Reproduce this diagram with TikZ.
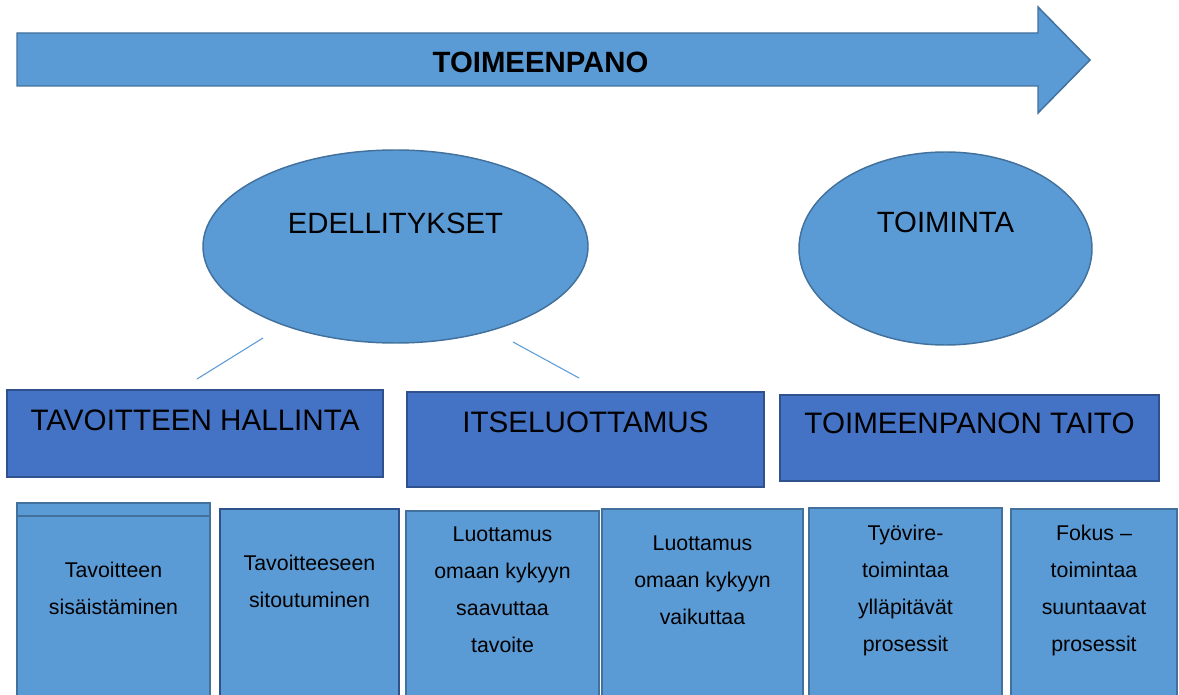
\documentclass[tikz,border=0pt]{standalone}
\usepackage{fontspec}
\setmainfont{Liberation Sans}
\usepackage{xcolor}
\usepackage{tikz}
\usetikzlibrary{shapes.geometric, positioning, fit, calc}
\definecolor{lightblue}{HTML}{5B9BD5}
\definecolor{lightline}{HTML}{41719C}
\definecolor{darkblue}{HTML}{4472C4}
\definecolor{darkline}{HTML}{2F528F}

\begin{document}
\begin{tikzpicture}[
  x=0.75pt, y=-0.75pt,
  arrowbody/.style={draw=lightline, fill=lightblue, line width=1.1pt, line join=miter},
  oval/.style={ellipse, draw=lightline, fill=lightblue, line width=1.1pt, inner sep=0pt, outer sep=0pt, minimum height=144.75pt},
  bigtext/.style={font=\fontsize{22pt}{26pt}\selectfont, inner sep=0pt, anchor=north},
  boxtext/.style={font=\fontsize{22.2pt}{26pt}\selectfont, inner sep=0pt, anchor=north},
  topbox/.style={rectangle, draw=darkline, fill=darkblue, line width=1.1pt, inner sep=0pt, outer sep=0pt},
  lowbox/.style={rectangle, draw=lightline, fill=lightblue, line width=1.5pt, inner sep=0pt, outer sep=0pt},
  lowtext/.style={font=\fontsize{16pt}{27.75pt}\selectfont, align=center, inner sep=0pt, anchor=north},
  link/.style={draw=lightblue, line width=0.8pt}
]
  \useasboundingbox (0,0) rectangle (1179,695);
  \clip (0,0) rectangle (1179,695);

  \draw[arrowbody] (17,33) -- (1038,33) -- (1038,7) -- (1090,60) -- (1038,113) -- (1038,86) -- (17,86) -- cycle;
  \node[font=\bfseries\fontsize{22pt}{26pt}\selectfont, inner sep=0pt] (pano) at (540.5,62.5) {TOIMEENPANO};

  \node[oval, minimum width=288.75pt, label={[bigtext, yshift=-47.25pt]north:EDELLITYKSET}] (edel) at (395.5,246.5) {};
  \node[oval, minimum width=219.75pt, label={[bigtext, yshift=-45pt]north:TOIMINTA}] (toim) at (945.5,248.5) {};

  \coordinate (la) at (263,338);
  \coordinate (lb) at (197,379);
  \coordinate (lc) at (513,342);
  \coordinate (ld) at (579,378);
  \draw[link] (la) -- (lb);
  \draw[link] (lc) -- (ld);

  \node[topbox, fit={(7,390) (383,477)}, label={[boxtext, yshift=-15pt]north:TAVOITTEEN HALLINTA}] (hall) {};
  \node[topbox, fit={(407,392) (764,487)}, label={[boxtext, yshift=-15pt]north:ITSELUOTTAMUS}] (itse) {};
  \node[topbox, fit={(780,395) (1159,481)}, label={[boxtext, yshift=-13.5pt]north:TOIMEENPANON TAITO}] (taito) {};

  \node[lowbox, fit={(17,503) (210,710)}, label={[lowtext, yshift=-44.25pt]north:Tavoitteen\\sisäistäminen}] (sisa) {};
  \draw[lightline, line width=1.5pt] ($(sisa.north west)+(0,13)$) -- ($(sisa.north east)+(0,13)$);
  \node[lowbox, draw=darkline, fit={(220,509) (399,710)}, label={[lowtext, yshift=-34.5pt]north:Tavoitteeseen\\sitoutuminen}] (sito) {};
  \node[lowbox, fit={(406,511) (599,710)}, label={[lowtext, yshift=-12pt]north:Luottamus\\omaan kykyyn\\saavuttaa\\tavoite}] (saav) {};
  \node[lowbox, fit={(602,509) (803,710)}, label={[lowtext, yshift=-20.25pt]north:Luottamus\\omaan kykyyn\\vaikuttaa}] (vaik) {};
  \node[lowbox, fit={(809,508) (1002,710)}, label={[lowtext, yshift=-12.75pt]north:Työvire-\\toimintaa\\ylläpitävät\\prosessit}] (yllap) {};
  \node[lowbox, fit={(1011,509) (1177,710)}, label={[lowtext, yshift=-12pt]north:Fokus –\\toimintaa\\suuntaavat\\prosessit}] (fokus) {};
\end{tikzpicture}
\end{document}
